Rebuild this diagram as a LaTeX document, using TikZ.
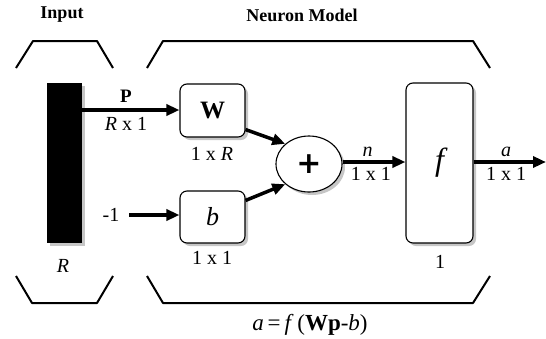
\documentclass[tikz,border=0pt]{standalone}
\usepackage{fontspec}
\setmainfont{Liberation Serif}
\newfontfamily\plusfont{DejaVu Sans}
\usetikzlibrary{arrows.meta,shadows,shapes.geometric}
\begin{document}
\begin{tikzpicture}[x=1pt,y=-1pt,
  brk/.style={line width=2pt,line join=round},
  shd/.style={drop shadow={opacity=0.45,shadow xshift=3pt,shadow yshift=-3pt}},
  blk/.style={draw,line width=1.1pt,rounded corners=7pt,fill=white,shd},
  conn/.style={line width=3.5pt,-{Triangle[length=13pt,width=11pt]}},
  lbl/.style={font=\fontsize{20}{20}\selectfont},
  ttl/.style={font=\bfseries\fontsize{18}{18}\selectfont}]
\useasboundingbox (0,0) rectangle (546,338);
% titles
\node[ttl] (tin) at (62,15) {Input};
\node[ttl] (tnm) at (302,15) {Neuron Model};
% brackets
\draw[brk] (16,68) -- (33,41) -- (97,41) -- (113,68);
\draw[brk] (147,68) -- (163,41) -- (473,41) -- (490,68);
\draw[brk] (16,276) -- (32,303) -- (97,303) -- (113,276);
\draw[brk] (147,276) -- (163,303) -- (473,303) -- (490,276);
% input bar
\node[fill=black,minimum width=35pt,minimum height=160pt,inner sep=0pt,shd] (bar) at (64.5,163) {};
\node[lbl] (lR) at (63,266) {\textit{R}};
% W and b boxes
\node[blk,minimum width=65pt,minimum height=53pt,font=\bfseries\fontsize{25}{25}\selectfont] (W) at (212.5,110.5) {W};
\node[lbl] (lW) at (212,154) {1 x \textit{R}};
\node[blk,minimum width=65pt,minimum height=52pt,font=\itshape\fontsize{26}{26}\selectfont] (b) at (212.5,217) {b};
\node[lbl] (lb) at (212,258) {1 x 1};
\node[lbl] (m1) at (111,215) {-1};
\coordinate (m1e) at (129,215);
% sum
\node[draw,line width=1.1pt,ellipse,fill=white,minimum width=66pt,minimum height=56pt,inner sep=0pt,shd,
  font=\plusfont\bfseries\fontsize{30}{30}\selectfont] (sum) at (309,164) {+};
% f box
\node[blk,minimum width=67pt,minimum height=160pt,font=\itshape\fontsize{32}{32}\selectfont] (f) at (439.5,163) {f};
\node[lbl] (lf) at (440,262) {1};
\coordinate (out) at (546,162);
% connectors
\draw[conn] (bar.east |- 0,110) -- (W.west |- 0,110)
  node[pos=0.45,above=2pt,font=\bfseries\fontsize{19}{19}\selectfont,text=black] (lP) {P}
  node[pos=0.45,below=2pt,lbl] (lRx) {\textit{R} x 1};
\draw[conn] (m1e) -- (b.west |- 0,215);
\draw[conn] (W.south east) ++(0,-8) -- (sum.north west);
\draw[conn] (b.north east) ++(0,10) -- (sum.south west);
\draw[conn] (sum.east |- 0,162) -- (f.west |- 0,162)
  node[pos=0.4,above=0pt,lbl] (ln) {\textit{n}}
  node[pos=0.45,below=0pt,lbl] (ln1) {1 x 1};
\draw[conn] (f.east |- 0,162) -- (out)
  node[pos=0.45,above=0pt,lbl] (la) {\textit{a}}
  node[pos=0.45,below=0pt,lbl] (la1) {1 x 1};
% formula
\node[font=\fontsize{23}{23}\selectfont] (eq) at (310,325) {\textit{a}\,=\,\textit{f}\,(\textbf{Wp}-\textit{b})};
\end{tikzpicture}
\end{document}
